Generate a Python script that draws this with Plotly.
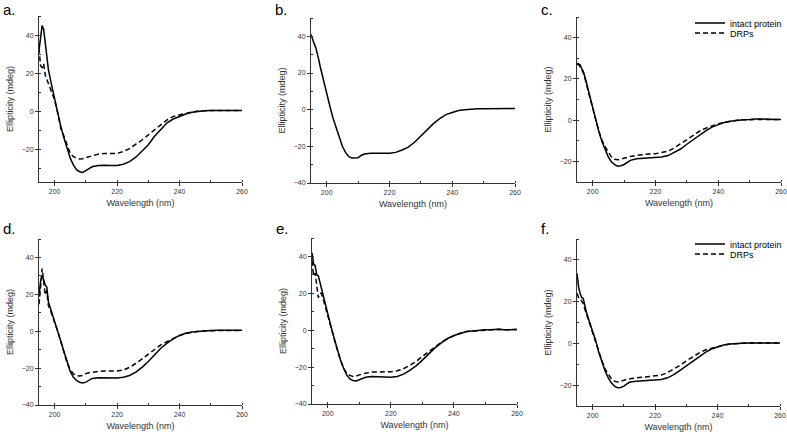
import plotly.graph_objects as go

# Shared wavelength grid (nm)
wavelength = [195, 195.5, 196, 196.5, 197, 197.5, 198, 199, 200, 201, 202, 203, 204, 205,
              206, 207, 208, 209, 210, 211, 212, 214, 216, 218, 220, 222, 224, 226, 228,
              230, 232, 234, 236, 238, 240, 242, 244, 246, 248, 250, 252, 254, 256, 258, 260]

# Panel a
a_intact = [32, 38, 45, 43, 35, 28, 22, 14, 6, -1, -8, -14, -20, -24.5,
            -28, -30.5, -31.6, -32, -31, -29.8, -29, -28.4, -28.2, -28.4, -28.4, -27.7, -26.3, -24, -21,
            -17.5, -13, -9.6, -6, -4, -2.6, -1.4, -0.5, 0, 0.3, 0.5, 0.5, 0.5, 0.5, 0.5, 0.5]
a_drps = [33, 24, 23, 25, 19, 17, 15, 11, 6, -1, -9, -13, -18, -22,
          -23.7, -24.5, -25, -24.8, -24.2, -23.7, -23.3, -22.4, -22, -22, -22, -21, -19.5, -17.2, -15,
          -12.3, -9.6, -7, -4.4, -2.6, -1.8, -0.9, -0.3, 0.2, 0.5, 0.5, 0.5, 0.5, 0.5, 0.5, 0.5]

# Panel b
b_intact = [41, 38, 36, 34, 31, 27, 23, 15.5, 8, 2, -4.5, -10, -15.5, -20,
            -23.3, -25.5, -26.4, -26.5, -26.2, -25, -24.2, -23.8, -23.6, -23.8, -23.8, -23.3, -22, -20.4, -17.8,
            -14.5, -11, -7.6, -4.9, -2.7, -1.5, -0.5, 0, 0.4, 0.5, 0.5, 0.6, 0.6, 0.6, 0.6, 0.6]

# Panel c
c_intact = [27.6, 27.2, 26.8, 25, 23.6, 21, 17.9, 11.4, 5.7, 0, -5.7, -10.6, -14.6, -17.9,
            -20.3, -21.6, -22.3, -22.1, -21.5, -20.5, -19.5, -18.7, -18.5, -18.5, -18.4, -17.9, -17.2, -15.8, -14,
            -11.7, -9.4, -7.2, -5.2, -3.4, -2.1, -1.1, -0.5, 0, 0.2, 0.3, 0.6, 0.5, 0.3, 0.3, 0.3]
c_drps = [27, 27, 26, 24.5, 23, 20.5, 17.5, 11, 5.5, 0, -5.5, -10, -13, -15.8,
          -17.9, -19, -19.2, -18.9, -18.4, -18, -17.6, -17.1, -16.7, -16.4, -16.3, -15.8, -15.1, -13.5, -11.4,
          -9.4, -7.3, -5.4, -3.9, -2.8, -1.8, -1, -0.4, 0, 0.2, 0.3, 0.3, 0.3, 0.3, 0.3, 0.3]

# Panel d
d_intact = [18.7, 27, 29.5, 28, 25, 24, 16, 10.6, 5.2, 0, -5.6, -11.9, -17.3, -21.8,
            -24.9, -26.7, -27.7, -28.1, -27.6, -26.5, -25.6, -25.2, -25.2, -25.4, -25.4, -24.9, -24, -22.2, -19.6,
            -16.4, -12.8, -9.2, -6.5, -4.1, -2.3, -1.1, -0.4, 0, 0.2, 0.4, 0.5, 0.5, 0.5, 0.5, 0.5]
d_drps = [14.6, 27, 34, 27, 19.6, 22, 14, 9.7, 5.2, 0, -5.6, -11, -17.3, -20.9,
          -23, -24, -24.3, -24, -23, -22.5, -22.2, -21.8, -21.6, -21.6, -21.6, -21, -19.6, -17.5, -15,
          -12.4, -9.7, -7.4, -5.6, -3.8, -2.3, -1.2, -0.5, 0, 0.2, 0.4, 0.4, 0.4, 0.4, 0.4, 0.4]

# Panel e
e_intact = [42, 36, 35, 30, 29.5, 26, 22, 15, 8.5, 2.2, -4.2, -10.5, -16, -20.5,
            -24.2, -26.4, -27.3, -27.5, -26.9, -26, -25.5, -25.1, -25.3, -25.6, -25.5, -25.1, -23.8, -21.8, -19.3,
            -16.2, -12.9, -9.6, -6.9, -4.5, -2.9, -1.6, -0.7, -0.4, 0, 0.2, 0.3, 0.5, 0.2, 0.3, 0.4]
e_drps = [37.6, 29.5, 31, 25, 17.6, 20, 20, 14, 7.6, 2, -4.2, -10.5, -16, -20.5,
          -23.3, -24.5, -25.1, -24.9, -24.2, -23.7, -23.3, -22.7, -22.7, -22.7, -22.5, -22, -20.9, -19.1, -16.9,
          -14.2, -11.5, -8.9, -6.5, -4.5, -2.9, -1.6, -0.7, -0.4, 0, 0.2, 0.3, 0.5, 0.2, 0.3, 0.4]

# Panel f
f_intact = [33.5, 27, 23.9, 22, 21.5, 17.4, 15, 10.2, 6.1, 1.3, -4.4, -9.2, -13.2, -16.5,
            -18.9, -20.5, -21.3, -21.1, -20.5, -19.4, -18.5, -18.2, -18, -17.9, -17.7, -17.3, -16.5, -15, -12.9,
            -10.8, -8.4, -6.3, -4.4, -2.7, -1.6, -0.8, -0.3, 0, 0.1, 0.2, 0.2, 0.2, 0.2, 0.2, 0.2]
f_drps = [24, 22, 21.5, 20, 19, 16.5, 14.2, 10.2, 5.3, 0.5, -4.4, -8.4, -12.4, -14.8,
          -16.9, -18.1, -18.5, -18.2, -17.6, -17.2, -16.9, -16.5, -16.1, -15.8, -15.6, -15.2, -14, -12.4, -10.5,
          -8.4, -6.5, -4.7, -3.2, -2.3, -1.5, -0.8, -0.3, 0, 0.1, 0.2, 0.2, 0.2, 0.2, 0.2, 0.2]

panel_labels = ["a.", "b.", "c.", "d.", "e.", "f."]
series_names = ["intact protein", "DRPs"]
x_title = "Wavelength (nm)"
y_title = "Ellipticity (mdeg)"
x_ticks = [200, 220, 240, 260]

W, H = 787, 432
FONT = "Liberation Sans, Arial, sans-serif"
AX = "#333333"

panels = [
    # (intact, drps, x px left, right, y px top, bottom, yrange, legends for (intact, drps))
    (a_intact, a_drps, 39, 242, 16, 182, [-37, 50], None),
    (b_intact, None, 311, 515, 18, 183, [-40, 50], None),
    (c_intact, c_drps, 577, 781, 17, 182, [-30, 50], ("legend", "legend2")),
    (d_intact, d_drps, 39, 242, 239, 405, [-40, 50], None),
    (e_intact, e_drps, 312, 517, 238, 404, [-40, 50], None),
    (f_intact, f_drps, 577, 780, 239, 406, [-30, 50], ("legend3", "legend4")),
]

fig = go.Figure()
layout = dict(width=W, height=H, margin=dict(l=0, r=0, t=0, b=0),
              paper_bgcolor="white", plot_bgcolor="white",
              font=dict(family=FONT, color=AX), annotations=[])

for i, ((intact, drps, xl, xr, yt, yb, yr, legs), lab) in enumerate(zip(panels, panel_labels), start=1):
    sfx = "" if i == 1 else str(i)
    xa, ya = "x" + sfx, "y" + sfx
    show = legs is not None
    fig.add_trace(go.Scatter(x=wavelength, y=intact, mode="lines", name=series_names[0],
                             line=dict(color="black", width=1.5), xaxis=xa, yaxis=ya,
                             showlegend=show, legend=legs[0] if show else "legend"))
    if drps is not None:
        fig.add_trace(go.Scatter(x=wavelength, y=drps, mode="lines", name=series_names[1],
                                 line=dict(color="black", width=1.5, dash="5px,3px"), xaxis=xa, yaxis=ya,
                                 showlegend=show, legend=legs[1] if show else "legend"))
    common = dict(showline=True, linecolor=AX, linewidth=1, ticks="outside", ticklen=3,
                  tickcolor=AX, tickwidth=1, showgrid=False, zeroline=False,
                  tickfont=dict(size=7, color=AX, family=FONT), automargin=False,
                  minor=dict(ticks="inside", ticklen=2, dtick=10, tickcolor=AX, tickwidth=1, showgrid=False))
    layout["xaxis" + sfx] = dict(common, domain=[xl / W, xr / W], range=[195, 260],
                                 tickvals=x_ticks, anchor=ya,
                                 title=dict(text=x_title, font=dict(size=9, color=AX), standoff=5))
    layout["yaxis" + sfx] = dict(common, domain=[1 - yb / H, 1 - yt / H], range=yr,
                                 dtick=20, tick0=0, anchor=xa,
                                 title=dict(text=y_title, font=dict(size=9, color=AX), standoff=6))
    label_y = 10 if yt < 100 else 228
    layout["annotations"].append(dict(text=lab, xref="paper", yref="paper",
                                      x=(xl - 38) / W, y=1 - label_y / H,
                                      xanchor="left", yanchor="middle", showarrow=False,
                                      font=dict(size=15, color="black", family=FONT)))

leg_common = dict(x=690 / W, xanchor="left", yanchor="middle", bgcolor="rgba(0,0,0,0)",
                  font=dict(size=9, color="black", family=FONT), tracegroupgap=0,
                  itemwidth=30, borderwidth=0)
for name, ypx in [("legend", 23), ("legend2", 33), ("legend3", 244), ("legend4", 254)]:
    layout[name] = dict(leg_common, y=1 - ypx / H)
layout["showlegend"] = True

fig.update_layout(**layout)
fig.write_html("out.html", config={"displayModeBar": False},
               post_script="document.body.style.margin='0';document.body.style.overflow='hidden';")
